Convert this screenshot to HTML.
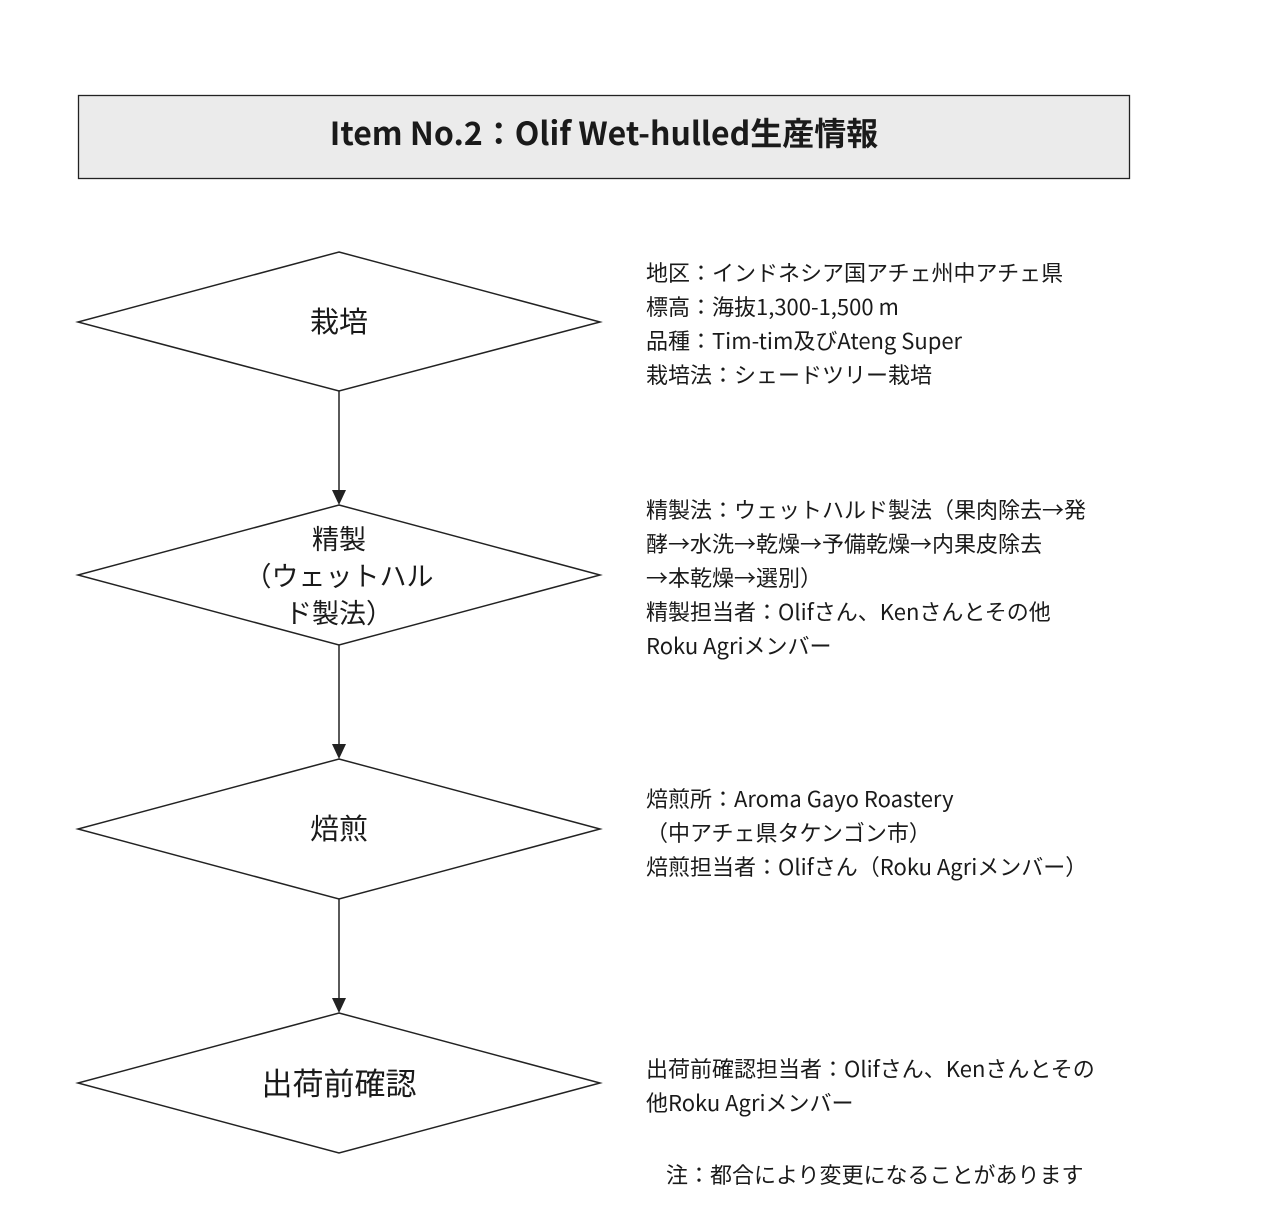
<!DOCTYPE html>
<html><head><meta charset="utf-8"><style>
body{margin:0;width:1280px;height:1205px;background:#fff;position:relative;font-family:"Noto Sans CJK JP","Liberation Sans",sans-serif;color:#1a1a1a}
.t{position:absolute;left:646px;font-size:22px;line-height:34px;white-space:nowrap}
.c{position:absolute;width:300px;left:189px;text-align:center;font-size:29px;line-height:37px}
</style></head><body>
<svg width="1280" height="1205" style="position:absolute;left:0;top:0">
<rect x="78.5" y="95.5" width="1051" height="83" fill="#ebebeb" stroke="#222" stroke-width="1.3"/>
<g fill="#fff" stroke="#222" stroke-width="1.5">
<polygon points="339,252 600,322 339,391 78,322"/>
<polygon points="339,505 600,575 339,645 78,575"/>
<polygon points="339,759 600,829 339,899 78,829"/>
<polygon points="339,1013 600,1083 339,1153 78,1083"/>
</g>
<g stroke="#222" stroke-width="1.5">
<line x1="339" y1="391" x2="339" y2="492"/>
<line x1="339" y1="645" x2="339" y2="746"/>
<line x1="339" y1="899" x2="339" y2="1000"/>
</g>
<g fill="#222">
<polygon points="332,490 346,490 339,505"/>
<polygon points="332,744 346,744 339,759"/>
<polygon points="332,998 346,998 339,1013"/>
</g>
</svg>
<div style="position:absolute;left:78px;width:1052px;top:111px;text-align:center;font-size:32px;font-weight:bold;line-height:42px">Item No.2：Olif Wet-hulled生産情報</div>
<div class="c" style="top:302px">栽培</div>
<div class="c" style="top:519px;font-size:27px">精製<br>（ウェットハル<br>ド製法）</div>
<div class="c" style="top:809px">焙煎</div>
<div class="c" style="top:1063px;font-size:31px">出荷前確認</div>
<div class="t" style="top:255px">地区：インドネシア国アチェ州中アチェ県<br>標高：海抜1,300-1,500 m<br>品種：Tim-tim及びAteng Super<br>栽培法：シェードツリー栽培</div>
<div class="t" style="top:492px">精製法：ウェットハルド製法（果肉除去→発<br>酵→水洗→乾燥→予備乾燥→内果皮除去<br>→本乾燥→選別）<br>精製担当者：Olifさん、Kenさんとその他<br>Roku Agriメンバー</div>
<div class="t" style="top:781px">焙煎所：Aroma Gayo Roastery<br>（中アチェ県タケンゴン市）<br>焙煎担当者：Olifさん（Roku Agriメンバー）</div>
<div class="t" style="top:1051px">出荷前確認担当者：Olifさん、Kenさんとその<br>他Roku Agriメンバー</div>
<div class="t" style="top:1157px;left:666px">注：都合により変更になることがあります</div>
</body></html>
